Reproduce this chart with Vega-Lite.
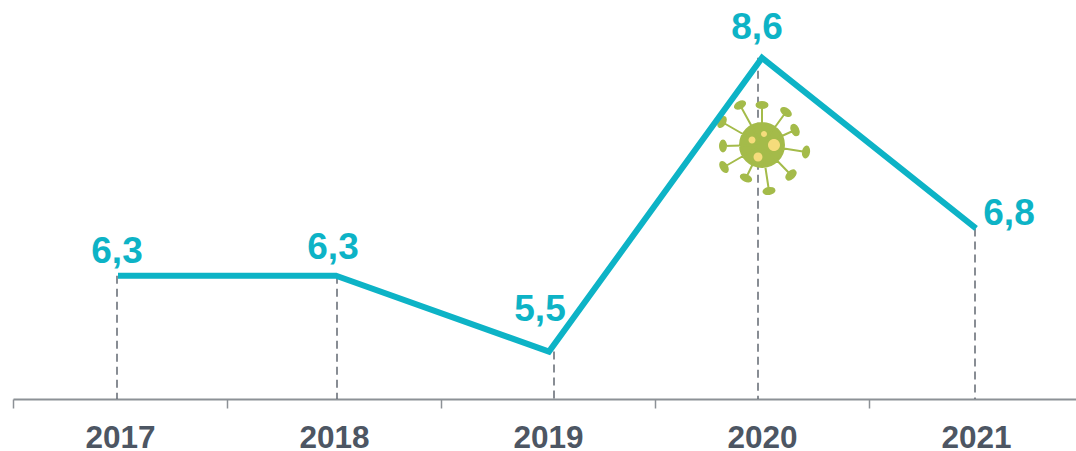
{"$schema":"https://vega.github.io/schema/vega-lite/v6.json","width":1063,"height":399,"autosize":{"type":"none"},"padding":{"left":13,"top":0,"right":0,"bottom":52},"background":"white","view":{"stroke":null},
"data":{"values":[{"year":"2017","value":6.3,"label":"6,3"},{"year":"2018","value":6.3,"label":"6,3"},{"year":"2019","value":5.5,"label":"5,5"},{"year":"2020","value":8.6,"label":"8,6"},{"year":"2021","value":6.8,"label":"6,8"}]},
"encoding":{"x":{"field":"year","type":"nominal","scale":{"type":"band","range":[0,1070],"paddingInner":0,"paddingOuter":0},"axis":{"title":null,"labelAngle":0,"labelFont":"Liberation Sans","labelFontWeight":"bold","labelFontSize":31.5,"labelColor":"#4d5663","labelPadding":14,"tickBand":"extent","tickSize":9,"tickWidth":1.5,"tickColor":"#8c9196","domainColor":"#8c9196","domainWidth":2,"grid":false}},
"y":{"field":"value","type":"quantitative","scale":{"domain":[5,9.21],"zero":false},"axis":null}},
"layer":[
{"mark":{"type":"rule","stroke":"#626872","strokeWidth":1.5,"strokeDash":[8,5],"xOffset":{"expr":"datum.year==='2017'?-3:datum.year==='2018'?3:datum.year==='2019'?6:datum.year==='2020'?-4:-1"}},"encoding":{"y2":{"datum":5}}},
{"transform":[{"filter":"datum.year==='2020'"}],"mark":{"type":"point","filled":true,"fill":"#a4bb4a","stroke":"#a4bb4a","strokeWidth":2,"opacity":1,"size":10000,"shape":"M-.44,0A.44,.44 0 1 0 .44,0A.44,.44 0 1 0 -.44,0ZM0,0L-.44,-.8M0,0L0,-.8M0,0L.48,-.66M0,0L.66,-.3M0,0L.88,.14M0,0L.58,.6M0,0L.14,.92M0,0L-.32,.66M0,0L-.76,.44M0,0L-.78,.02M0,0L-.8,-.46M-.537,-.747A.11,.06 -29 1 0 -.343,-.853A.11,.06 -29 1 0 -.537,-.747ZM-.11,-.8A.11,.06 0 1 0 .11,-.8A.11,.06 0 1 0 -.11,-.8ZM.391,-.725A.11,.06 36 1 0 .569,-.595A.11,.06 36 1 0 .391,-.725ZM.615,-.4A.11,.06 66 1 0 .705,-.2A.11,.06 66 1 0 .615,-.4ZM.898,.031A.11,.06 99 1 0 .862,.249A.11,.06 99 1 0 .898,.031ZM.659,.524A.11,.06 136 1 0 .501,.676A.11,.06 136 1 0 .659,.524ZM.249,.903A.11,.06 171 1 0 .031,.937A.11,.06 171 1 0 .249,.903ZM-.221,.708A.11,.06 206 1 0 -.419,.612A.11,.06 206 1 0 -.221,.708ZM-.705,.536A.11,.06 240 1 0 -.815,.344A.11,.06 240 1 0 -.705,.536ZM-.78,.13A.11,.06 270 1 0 -.78,-.09A.11,.06 270 1 0 -.78,.13ZM-.855,-.364A.11,.06 -60 1 0 -.745,-.556A.11,.06 -60 1 0 -.855,-.364Z"},"encoding":{"y":{"datum":7.68}}},
{"transform":[{"filter":"datum.year==='2020'"}],"mark":{"type":"point","filled":true,"fill":"#f5dc7b","opacity":1,"size":10000,"shape":"M-.27,-.1A.07,.07 0 1 0 -.13,-.1A.07,.07 0 1 0 -.27,-.1ZM-.02,-.22A.06,.06 0 1 0 .1,-.22A.06,.06 0 1 0 -.02,-.22ZM.12,0A.12,.12 0 1 0 .36,0A.12,.12 0 1 0 .12,0ZM-.17,.24A.09,.09 0 1 0 .01,.24A.09,.09 0 1 0 -.17,.24Z"},"encoding":{"y":{"datum":7.68}}},
{"mark":{"type":"line","stroke":"#0db3c6","strokeWidth":6,"strokeJoin":"miter","strokeCap":"butt","xOffset":{"expr":"datum.year==='2017'?-2:datum.year==='2018'?2:datum.year==='2019'?1:0"}}},
{"mark":{"type":"text","font":"Liberation Sans","fontWeight":"bold","fontSize":37,"fill":"#0db3c6","baseline":"alphabetic","align":"center","dx":{"expr":"datum.year==='2017'?-3:datum.year==='2018'?-1:datum.year==='2019'?-8:datum.year==='2020'?-5:33"},"dy":{"expr":"datum.year==='2017'?-13:datum.year==='2018'?-17:datum.year==='2019'?-31:datum.year==='2020'?-19:-3"}},"encoding":{"text":{"field":"label"}}}
]}
